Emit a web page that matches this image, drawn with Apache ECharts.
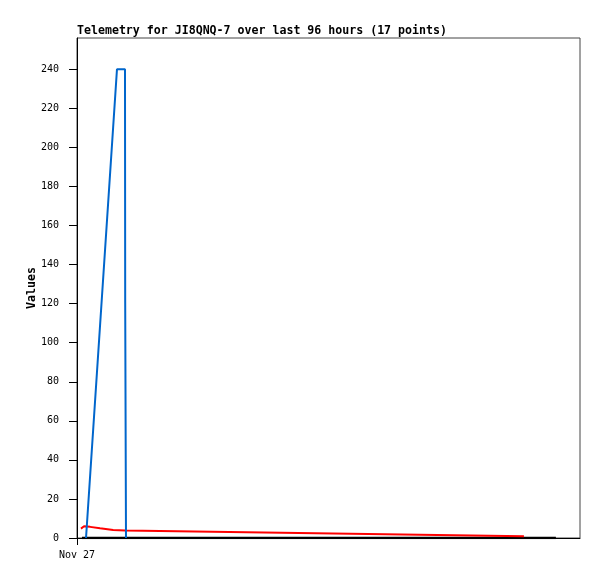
<!DOCTYPE html>
<html><head><meta charset="utf-8">
<script src="https://cdn.jsdelivr.net/npm/echarts@6/dist/echarts.min.js"></script>
<style>html,body{margin:0;padding:0;background:#fff}#c{width:597px;height:579px}</style>
</head><body><div id="c"></div>
<script>
// x in hours since Nov 27 00:00
var titleText = 'Telemetry for JI8QNQ-7 over last 96 hours (17 points)';
var xTickLabels = ['Nov 27'];
var yTicks = [0,20,40,60,80,100,120,140,160,180,200,220,240];
var blackX = [0.95, 91.4];
var blackY = [0, 0];
var redX = [0.76, 1.34, 2.5, 4.4, 6.9, 9.2, 85.3];
var redY = [4.8, 6.0, 5.7, 5.0, 4.1, 3.9, 0.9];
var blueX = [1.72, 7.63, 9.16, 9.2, 9.35];
var blueY = [0, 240, 240, 120, 0];

function pairs(xs, ys){ return xs.map(function(x,i){ return [x, ys[i]]; }); }

var chart = echarts.init(document.getElementById('c'), null, {renderer:'canvas'});
chart.setOption({
  animation: false,
  backgroundColor: '#fff',
  title: {
    text: titleText, left: 72, top: 20,
    textStyle: {fontFamily: 'DejaVu Sans Mono', fontWeight: 'bold', fontSize: 11.6, color: '#000'}
  },
  grid: {left: 77, top: 38, right: 17, bottom: 41, show: true, borderColor: '#444', borderWidth: 1, backgroundColor: '#fff'},
  xAxis: {
    type: 'value', min: 0, max: 96,
    axisLine: {show: true, lineStyle: {color: '#000', width: 1}},
    axisTick: {show: true, customValues: [0], length: 7, lineStyle: {color: '#000'}},
    axisLabel: {customValues: [0], formatter: function(){ return xTickLabels[0]; }, fontFamily: 'DejaVu Sans Mono', fontSize: 10, color: '#000', margin: 12},
    splitLine: {show: false}
  },
  yAxis: {
    type: 'value', min: 0, max: 256,
    name: 'Values', nameLocation: 'middle', nameGap: 39, nameMoveOverlap: false,
    nameTextStyle: {fontFamily: 'DejaVu Sans Mono', fontWeight: 'bold', fontSize: 11.6, color: '#000'},
    axisLine: {show: true, lineStyle: {color: '#000', width: 1}},
    axisTick: {show: true, customValues: yTicks, length: 8, lineStyle: {color: '#000'}},
    axisLabel: {customValues: yTicks, fontFamily: 'DejaVu Sans Mono', fontSize: 10, color: '#000', margin: 18},
    splitLine: {show: false}
  },
  series: [
    {type: 'line', data: pairs(blackX, blackY), symbol: 'none', lineStyle: {color: '#000', width: 2.5}, z: 2},
    {type: 'line', data: pairs(redX, redY), symbol: 'none', lineStyle: {color: '#ff0000', width: 2}, z: 3},
    {type: 'line', data: pairs(blueX, blueY), symbol: 'none', lineStyle: {color: '#0066cc', width: 2}, z: 4}
  ]
});
</script></body></html>
